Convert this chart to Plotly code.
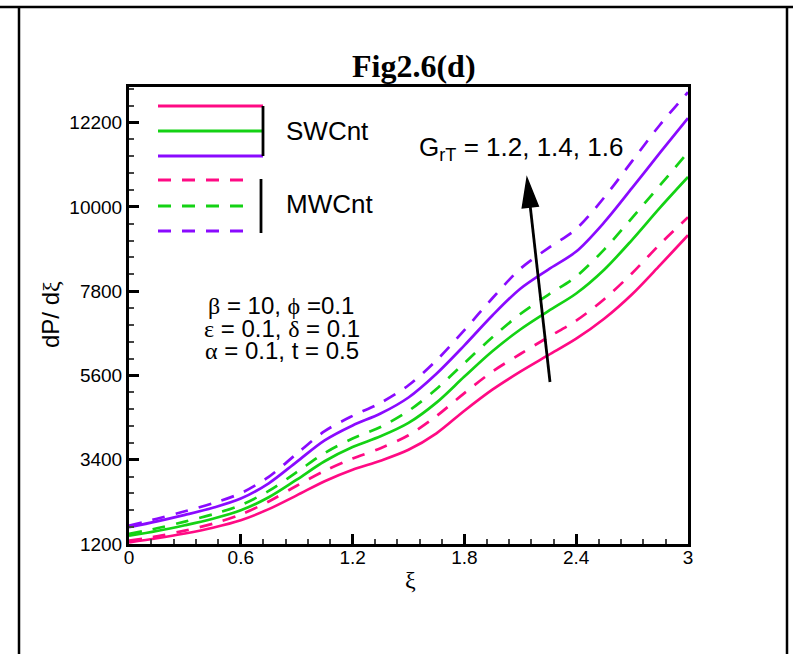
import plotly.graph_objects as go

# ---- data ----
xi = [0, 0.15, 0.3, 0.45, 0.6, 0.75, 0.9, 1.05, 1.2, 1.35, 1.5,
      1.65, 1.8, 1.95, 2.1, 2.25, 2.4, 2.55, 2.7, 2.85, 3.0]

# SWCnt (solid) for GrT = 1.2, 1.4, 1.6
sw_12 = [1244, 1350, 1475, 1625, 1820, 2110, 2470, 2840, 3140, 3375, 3660,
         4090, 4680, 5230, 5700, 6130, 6560, 7080, 7720, 8480, 9260]
sw_14 = [1418, 1540, 1690, 1860, 2080, 2420, 2880, 3360, 3730, 4010, 4360,
         4890, 5570, 6230, 6800, 7280, 7740, 8360, 9140, 9980, 10780]
sw_16 = [1637, 1790, 1960, 2145, 2385, 2785, 3345, 3905, 4295, 4605, 5025,
         5645, 6385, 7165, 7865, 8365, 8835, 9595, 10495, 11415, 12315]

# MWCnt (dashed) for GrT = 1.2, 1.4, 1.6
mw_12 = [1287, 1400, 1550, 1730, 1970, 2310, 2720, 3110, 3430, 3700, 4040,
         4540, 5140, 5700, 6160, 6600, 7030, 7590, 8270, 9030, 9730]
mw_14 = [1462, 1610, 1785, 1975, 2215, 2585, 3075, 3575, 3955, 4255, 4675,
         5245, 5925, 6595, 7205, 7705, 8185, 8885, 9715, 10565, 11425]
mw_16 = [1680, 1860, 2055, 2265, 2525, 2955, 3555, 4145, 4545, 4885, 5345,
         5995, 6785, 7615, 8385, 8925, 9425, 10245, 11195, 12145, 12995]

x_ticks = [0, 0.6, 1.2, 1.8, 2.4, 3]
x_tick_labels = ["0", "0.6", "1.2", "1.8", "2.4", "3"]
y_ticks = [1200, 3400, 5600, 7800, 10000, 12200]
y_tick_labels = ["1200", "3400", "5600", "7800", "10000", "12200"]

PINK = "#FF0A84"
GREEN = "#14D214"
PURPLE = "#8A0AFF"
DASH = "13px,11px"

# ---- layout geometry (pixels) ----
W, H = 793, 654
L, R, T, B = 129, 688, 87, 544
pw, ph = R - L, B - T


def px(x):
    return (x - L) / pw


def py(y):
    return (B - y) / ph


fig = go.Figure()

series = [
    (sw_12, PINK, "solid"), (sw_14, GREEN, "solid"), (sw_16, PURPLE, "solid"),
    (mw_12, PINK, DASH), (mw_14, GREEN, DASH), (mw_16, PURPLE, DASH),
]
for ys, col, dash in series:
    fig.add_trace(go.Scatter(
        x=xi, y=ys, mode="lines",
        line=dict(color=col, width=2.7, dash=dash, shape="spline", smoothing=0.9),
        showlegend=False, hoverinfo="skip",
    ))

shapes = []
# legend sample lines
for yy, col in [(106, PINK), (131, GREEN), (156, PURPLE)]:
    shapes.append(dict(type="line", xref="paper", yref="paper",
                       x0=px(158), x1=px(263), y0=py(yy), y1=py(yy),
                       line=dict(color=col, width=2.8)))
for yy, col in [(180, PINK), (206, GREEN), (231, PURPLE)]:
    shapes.append(dict(type="line", xref="paper", yref="paper",
                       x0=px(158), x1=px(252), y0=py(yy), y1=py(yy),
                       line=dict(color=col, width=3.2, dash=DASH)))
shapes.append(dict(type="line", xref="paper", yref="paper",
                   x0=px(263), x1=px(263), y0=py(106), y1=py(156),
                   line=dict(color="black", width=2.8)))
shapes.append(dict(type="line", xref="paper", yref="paper",
                   x0=px(261), x1=px(261), y0=py(179), y1=py(233),
                   line=dict(color="black", width=2.8)))

# arrow (GrT increasing)
tail = (550, 382)
base = (530.3, 207)
tip = (527, 178)
c1 = (538.3, 206.1)
c2 = (522.3, 207.9)
shapes.append(dict(type="line", xref="paper", yref="paper",
                   x0=px(tail[0]), y0=py(tail[1]), x1=px(base[0]), y1=py(base[1]),
                   line=dict(color="black", width=2.8)))
shapes.append(dict(type="path", xref="paper", yref="paper",
                   path="M %f,%f L %f,%f L %f,%f Z" % (px(tip[0]), py(tip[1]),
                                                       px(c1[0]), py(c1[1]),
                                                       px(c2[0]), py(c2[1])),
                   fillcolor="black", line=dict(color="black", width=1.5)))

# outer page frame
shapes.append(dict(type="line", xref="paper", yref="paper",
                   x0=px(0), x1=px(W), y0=py(7), y1=py(7),
                   line=dict(color="black", width=2.5)))
shapes.append(dict(type="line", xref="paper", yref="paper",
                   x0=px(19), x1=px(19), y0=py(7), y1=py(H),
                   line=dict(color="black", width=2.5)))
shapes.append(dict(type="line", xref="paper", yref="paper",
                   x0=px(787), x1=px(787), y0=py(7), y1=py(H),
                   line=dict(color="black", width=2.5)))

SERIF = "Liberation Serif"
SANS = "Liberation Sans"


def g(ch):
    return "<span style='font-family:%s'>%s</span>" % (SERIF, ch)


annotations = [
    dict(text="<b>Fig2.6(d)</b>", xref="paper", yref="paper", x=px(414), y=py(66),
         xanchor="center", yanchor="middle",
         showarrow=False, font=dict(family=SERIF, size=32, color="black")),
    dict(text="SWCnt", xref="paper", yref="paper", x=px(284), y=py(131),
         xanchor="left", yanchor="middle",
         showarrow=False, font=dict(family=SANS, size=26, color="black")),
    dict(text="MWCnt", xref="paper", yref="paper", x=px(284), y=py(204),
         xanchor="left", yanchor="middle",
         showarrow=False, font=dict(family=SANS, size=26, color="black")),
    dict(text="G<sub>rT</sub> = 1.2, 1.4, 1.6", xref="paper", yref="paper",
         x=px(417), y=py(149), xanchor="left", yanchor="middle", showarrow=False,
         font=dict(family=SANS, size=26, color="black")),
    dict(text=g("β") + " = 10, " + g("ϕ") + " =0.1", xref="paper", yref="paper",
         x=px(281), y=py(305), xanchor="center", yanchor="middle", showarrow=False,
         font=dict(family=SANS, size=24, color="black")),
    dict(text=g("ε") + " = 0.1, " + g("δ") + " = 0.1", xref="paper", yref="paper",
         x=px(282), y=py(328), xanchor="center", yanchor="middle", showarrow=False,
         font=dict(family=SANS, size=24, color="black")),
    dict(text=g("α") + " = 0.1, t = 0.5", xref="paper", yref="paper",
         x=px(282), y=py(351), xanchor="center", yanchor="middle", showarrow=False,
         font=dict(family=SANS, size=24, color="black")),
    # axis titles
    dict(text="dP/ d" + g("ξ"), xref="paper", yref="paper", x=px(50), y=py(315),
         xanchor="center", yanchor="middle", textangle=-90, showarrow=False,
         font=dict(family=SANS, size=24, color="black")),
    dict(text="ξ", xref="paper", yref="paper", x=px(410), y=py(580),
         xanchor="center", yanchor="middle", showarrow=False,
         font=dict(family=SERIF, size=24, color="black")),
]

fig.update_layout(
    width=W, height=H,
    margin=dict(l=L, r=W - R, t=T, b=H - B, pad=0),
    paper_bgcolor="white", plot_bgcolor="white",
    shapes=shapes, annotations=annotations,
    font=dict(family=SANS, color="black"),
    xaxis=dict(
        range=[0, 3], tickvals=x_ticks, ticktext=x_tick_labels,
        ticks="inside", ticklen=10, tickwidth=2.5, tickcolor="black",
        minor=dict(dtick=0.12, tick0=0, ticks="inside", ticklen=5, tickwidth=1.5, tickcolor="#444"),
        showline=True, linewidth=3, linecolor="black", mirror=True,
        showgrid=False, zeroline=False, ticklabelstandoff=-6,
        tickfont=dict(family=SANS, size=19, color="black"),
    ),
    yaxis=dict(
        range=[1200, 13130], tickvals=y_ticks, ticktext=y_tick_labels,
        ticks="inside", ticklen=10, tickwidth=2.5, tickcolor="black",
        minor=dict(dtick=440, tick0=1200, ticks="inside", ticklen=5, tickwidth=1.5, tickcolor="#444"),
        showline=True, linewidth=3, linecolor="black", mirror=True,
        showgrid=False, zeroline=False,
        tickfont=dict(family=SANS, size=19, color="black"),
    ),
)

fig.write_html("out.html", config={"displayModeBar": False},
               post_script="document.body.style.margin='0px';")
